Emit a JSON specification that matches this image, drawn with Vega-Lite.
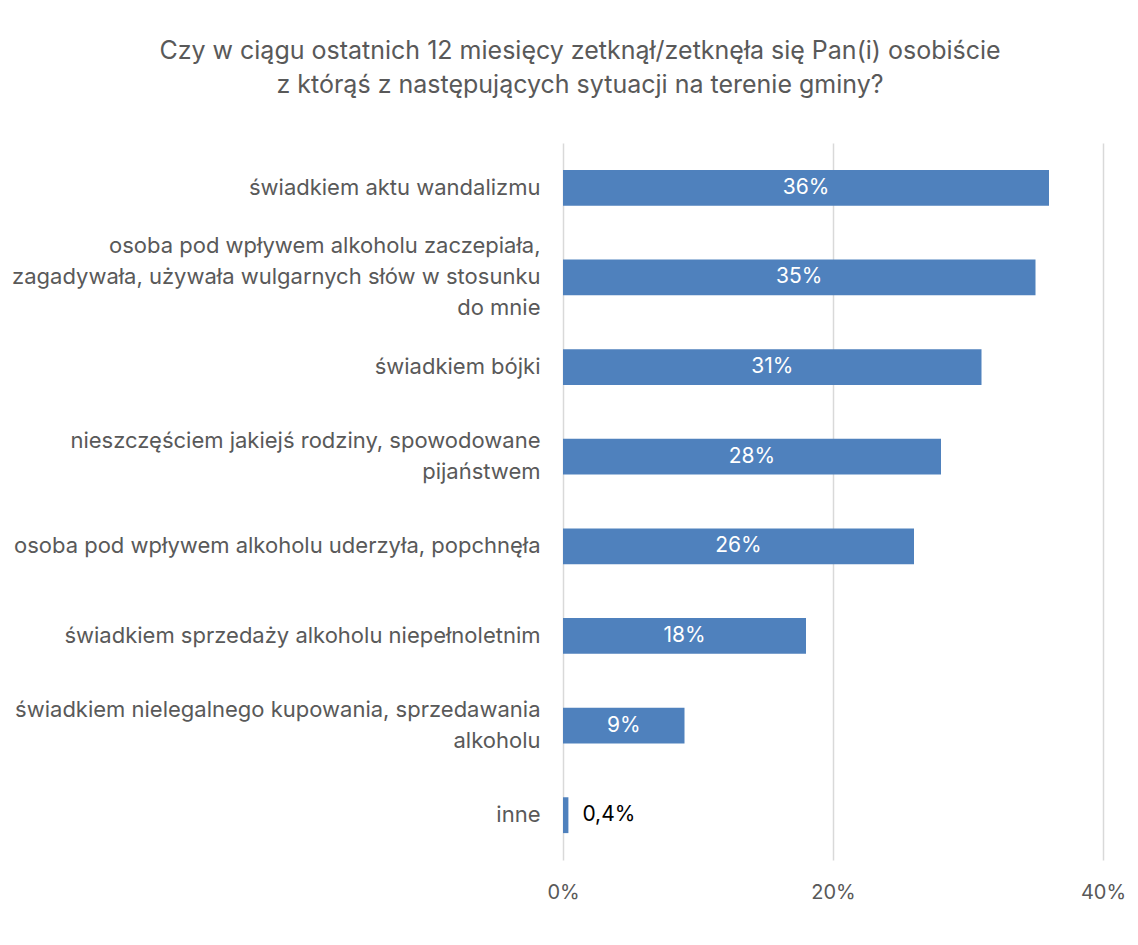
{
  "$schema": "https://vega.github.io/schema/vega-lite/v6.json",
  "width": 540,
  "height": 717,
  "autosize": {"type": "none"},
  "padding": {"left": 563, "top": 143, "right": 35, "bottom": 85},
  "background": "white",
  "title": {
    "text": ["Czy w ciągu ostatnich 12 miesięcy zetknął/zetknęła się Pan(i) osobiście", "z którąś z następujących sytuacji na terenie gminy?"],
    "anchor": "middle",
    "dx": -253,
    "offset": 45,
    "font": "Inter",
    "fontSize": 25,
    "fontWeight": "normal",
    "color": "#595959",
    "lineHeight": 34
  },
  "data": {
    "values": [
      {"kategoria": "świadkiem aktu wandalizmu", "pct": 36, "label": "36%"},
      {"kategoria": "osoba pod wpływem alkoholu zaczepiała,|zagadywała, używała wulgarnych słów w stosunku|do mnie", "pct": 35, "label": "35%"},
      {"kategoria": "świadkiem bójki", "pct": 31, "label": "31%"},
      {"kategoria": "nieszczęściem jakiejś rodziny, spowodowane|pijaństwem", "pct": 28, "label": "28%"},
      {"kategoria": "osoba pod wpływem alkoholu uderzyła, popchnęła", "pct": 26, "label": "26%"},
      {"kategoria": "świadkiem sprzedaży alkoholu niepełnoletnim", "pct": 18, "label": "18%"},
      {"kategoria": "świadkiem nielegalnego kupowania, sprzedawania|alkoholu", "pct": 9, "label": "9%"},
      {"kategoria": "inne", "pct": 0.4, "label": "0,4%"}
    ]
  },
  "encoding": {
    "y": {
      "field": "kategoria",
      "type": "nominal",
      "sort": null,
      "scale": {"paddingInner": 0.6, "paddingOuter": 0.3},
      "axis": {
        "title": null,
        "domain": false,
        "ticks": false,
        "labelExpr": "split(datum.value, '|')",
        "labelFont": "Inter",
        "labelFontSize": 22,
        "labelColor": "#595959",
        "labelLineHeight": 31,
        "labelBaseline": "middle",
        "labelPadding": 23,
        "labelLimit": 600,
        "labelOffset": {"expr": "-(length(split(datum.value, '|')) - 1) * 15.5"}
      }
    }
  },
  "layer": [
    {
      "mark": {"type": "bar", "color": "#4f81bd"},
      "encoding": {
        "x": {
          "field": "pct",
          "type": "quantitative",
          "scale": {"domain": [0, 40], "nice": false},
          "axis": {
            "title": null,
            "values": [0, 20, 40],
            "labelExpr": "datum.value + '%'",
            "domain": false,
            "ticks": false,
            "grid": true,
            "gridColor": "#d9d9d9",
            "gridWidth": 1.5,
            "labelFont": "Inter",
            "labelFontSize": 20,
            "labelColor": "#595959",
            "labelPadding": 22,
            "labelFlush": false
          }
        }
      }
    },
    {
      "transform": [{"filter": "datum.pct >= 5"}, {"calculate": "datum.pct / 2", "as": "mid"}],
      "mark": {"type": "text", "color": "white", "font": "Inter", "fontSize": 21, "align": "center", "baseline": "middle"},
      "encoding": {
        "x": {"field": "mid", "type": "quantitative"},
        "text": {"field": "label"}
      }
    },
    {
      "transform": [{"filter": "datum.pct < 5"}],
      "mark": {"type": "text", "color": "black", "font": "Inter", "fontSize": 21, "align": "left", "baseline": "middle", "dx": 14},
      "encoding": {
        "x": {"field": "pct", "type": "quantitative"},
        "text": {"field": "label"}
      }
    }
  ],
  "config": {"view": {"stroke": null}}
}
